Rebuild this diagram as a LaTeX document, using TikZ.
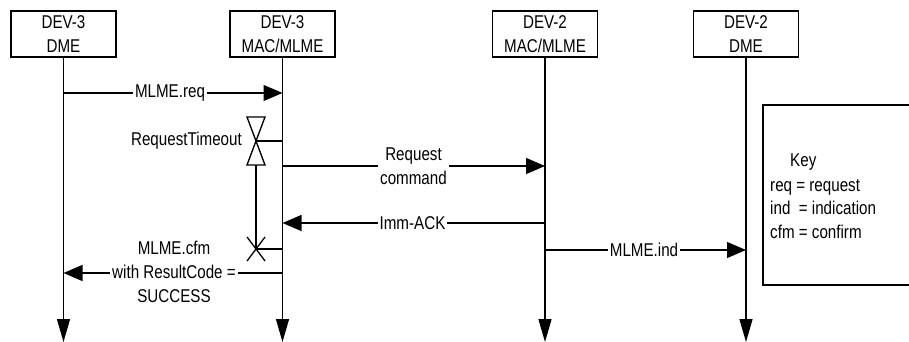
\documentclass[tikz,border=0pt]{standalone}
\usepackage{fontspec}
\setmainfont{Liberation Sans}[FakeStretch=0.82]
\usetikzlibrary{arrows.meta}
\begin{document}
\begin{tikzpicture}[x=1pt,y=-1pt,
  every node/.style={font=\fontsize{18.5}{24}\selectfont},
  ln/.style={line width=1.3pt},
  entity/.style={draw,line width=1.3pt,minimum width=105pt,minimum height=46pt,align=center,inner sep=0pt,fill=white},
  msg/.style={ln,-{Triangle[length=19pt,width=16pt]}},
  life/.style={ln,-{Triangle[length=23pt,width=13pt]}},
  lbl/.style={fill=white,inner xsep=2pt,inner ysep=0pt,align=center},
  keytxt/.style={anchor=base west,inner sep=0pt}
]
\useasboundingbox (0,0) rectangle (909,342);

% entities
\node[entity] (b1) at (63.5,34) {DEV-3\\DME};
\node[entity] (b2) at (282.5,34) {DEV-3\\MAC/MLME};
\node[entity] (b3) at (545,34) {DEV-2\\MAC/MLME};
\node[entity] (b4) at (746,34) {DEV-2\\DME};

% lifeline ends
\coordinate (e1) at (63.5,342);
\coordinate (e2) at (282.5,342);
\coordinate (e3) at (545,342);
\coordinate (e4) at (746,342);
\draw[life] (b1.south) -- (e1);
\draw[life] (b2.south) -- (e2);
\draw[life] (b3.south) -- (e3);
\draw[life] (b4.south) -- (e4);

% message points
\coordinate (r1) at (63.5,93);   \coordinate (r2) at (282.5,93);
\coordinate (q2) at (282.5,166); \coordinate (q3) at (545,166);
\coordinate (a3) at (545,223);   \coordinate (a2) at (282.5,223);
\coordinate (i3) at (545,250);   \coordinate (i4) at (746,250);
\coordinate (c2) at (282.5,273); \coordinate (c1) at (63.5,273);

\draw[msg] (r1) -- (r2);
\node[lbl] (lr) at (170,93) {MLME.req};
\draw[msg] (q2) -- (q3);
\node[lbl] (lq) at (413.5,166) {Request\\command};
\draw[msg] (a3) -- (a2);
\node[lbl] (la) at (412.5,223) {Imm-ACK};
\draw[msg] (i3) -- (i4);
\node[lbl] (li) at (644,250) {MLME.ind};
\draw[msg] (c2) -- (c1);
\node[lbl] (lc) at (174,272) {MLME.cfm\\with ResultCode =\\SUCCESS};

% timer
\coordinate (t0) at (256,141);
\coordinate (t1) at (282.5,141);
\coordinate (tb) at (256,165);
\coordinate (tx) at (256,249);
\coordinate (tx2) at (282.5,249);
\draw[ln,line join=miter] (t0) -- (247,117) -- (265,117) -- cycle;
\draw[ln,line join=miter] (t0) -- (247,165) -- (265,165) -- cycle;
\draw[ln] (t0) -- (t1);
\draw[ln] (tb) -- (tx);
\draw[ln] (247,237) -- (265,261);
\draw[ln] (247,261) -- (265,237);
\draw[ln] (tx) -- (tx2);
\node[anchor=east,inner sep=0pt] (lt) at (242,141) {RequestTimeout};

% key
\draw[ln] (763,105) rectangle (912,285);
\node[keytxt] (k0) at (790,166.5) {Key};
\node[keytxt] (k1) at (770,191) {req = request};
\node[keytxt] (k2) at (770,214.5) {ind\ \ = indication};
\node[keytxt] (k3) at (770,238) {cfm = confirm};
\end{tikzpicture}
\end{document}
